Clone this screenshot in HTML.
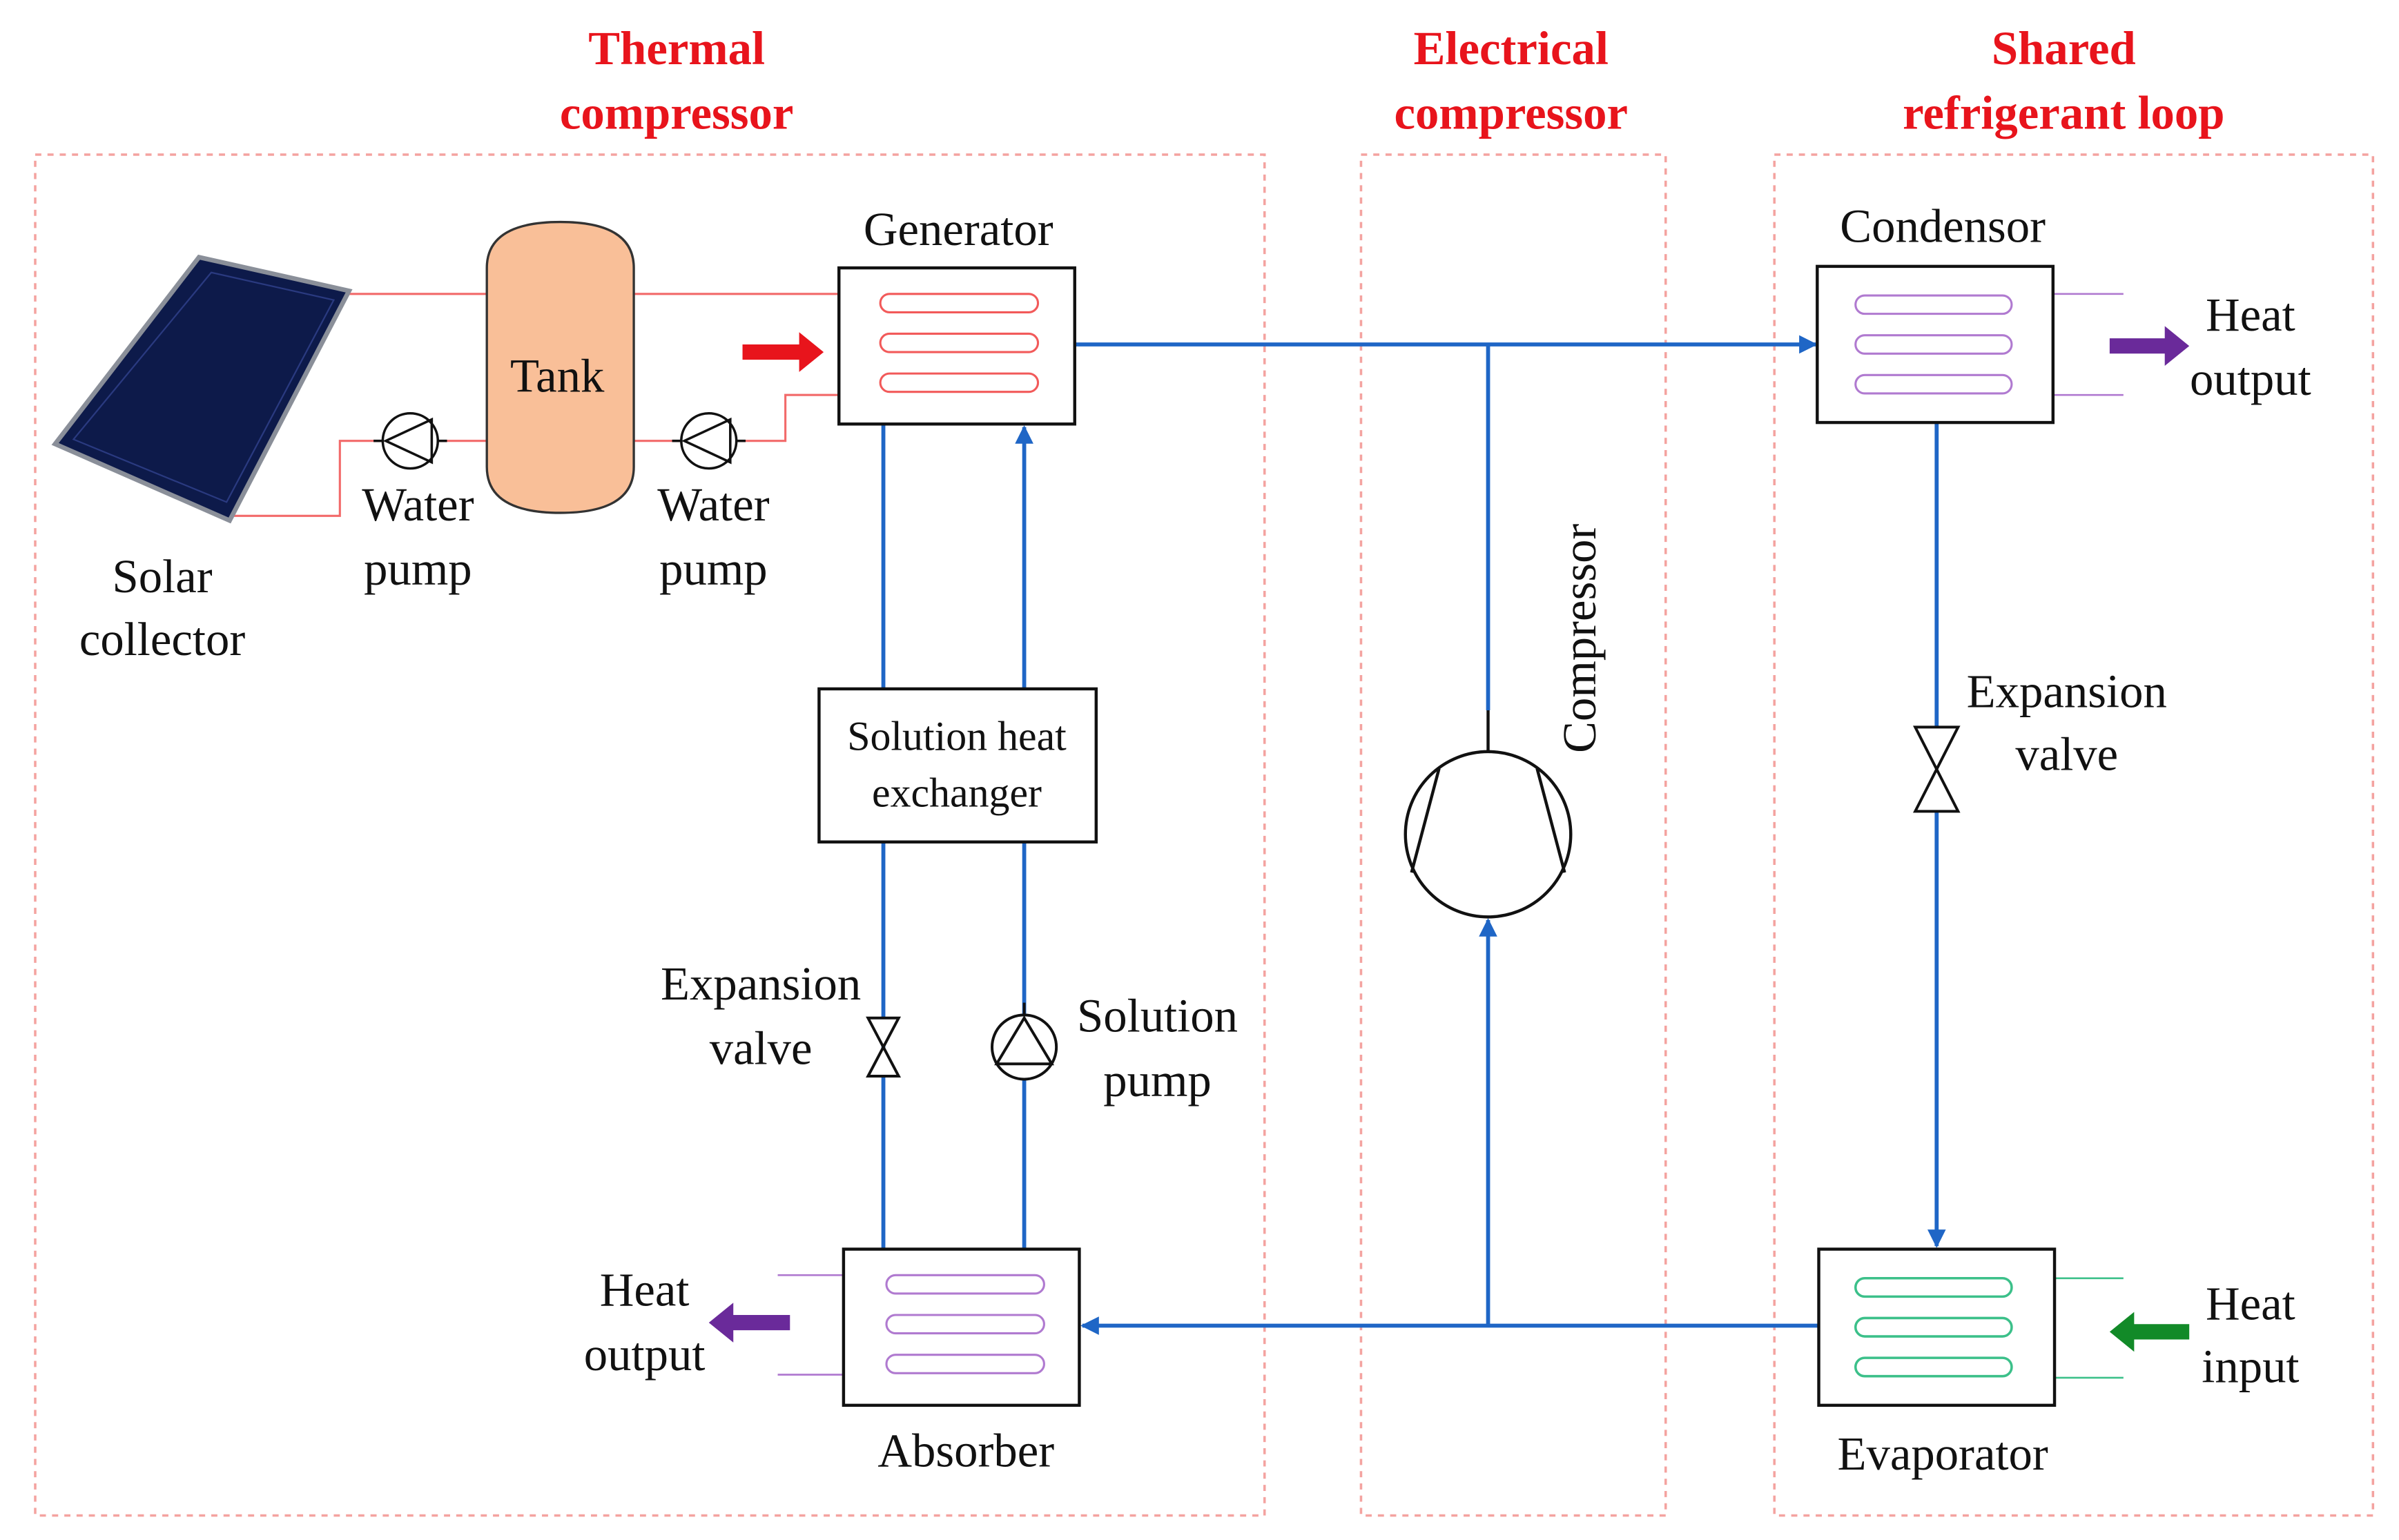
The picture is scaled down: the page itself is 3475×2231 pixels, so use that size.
<!DOCTYPE html>
<html><head><meta charset="utf-8"><style>
html,body{margin:0;padding:0;background:#fff;}
svg{display:block;}
text{font-family:"Liberation Serif",serif;fill:#111;}
.t{font-size:31px;text-anchor:middle;}
.h{font-size:31px;font-weight:bold;fill:#e8141c;text-anchor:middle;}
.b{stroke:#1f66c6;stroke-width:2.6;fill:none;}
.r{stroke:#f26a6a;stroke-width:1.4;fill:none;}
.box{fill:#fff;stroke:#111;stroke-width:2;}
.dash{fill:none;stroke:#f4a3a0;stroke-width:1.6;stroke-dasharray:4,4;}
</style></head><body>
<svg width="3475" height="2231" viewBox="0 0 1567 1006" preserveAspectRatio="none" xmlns="http://www.w3.org/2000/svg">
<defs>
<marker id="ab" viewBox="0 0 10 10" refX="9" refY="5" markerWidth="14" markerHeight="12" orient="auto" markerUnits="userSpaceOnUse"><path d="M0,0 L10,5 L0,10 z" fill="#1f66c6"/></marker>
</defs>
<rect width="1567" height="1006" fill="#fff"/>
<rect class="dash" x="23" y="101" width="803" height="889"/>
<rect class="dash" x="889" y="101" width="199" height="889"/>
<rect class="dash" x="1159" y="101" width="391" height="889"/>
<text class="h" x="442" y="42">Thermal</text>
<text class="h" x="442" y="84">compressor</text>
<text class="h" x="987" y="42">Electrical</text>
<text class="h" x="987" y="84">compressor</text>
<text class="h" x="1348" y="42">Shared</text>
<text class="h" x="1348" y="84">refrigerant loop</text>

<path class="r" d="M225,192 H318 M414,192 H548 M150,337 H222 V288 H250 M286,288 H318 M414,288 H445 M481,288 H513 V258 H548"/>
<polygon points="130,168 228,190 150,340 36,290" fill="#0d1a4a" stroke="#8a8f99" stroke-width="3"/>
<polygon points="138,178 218,196 148,328 48,287" fill="none" stroke="#2a3a80" stroke-width="1"/>
<path d="M318,175 Q318,145 366,145 Q414,145 414,175 V305 Q414,335 366,335 Q318,335 318,305 Z" fill="#f9bf98" stroke="#333" stroke-width="1.5"/>
<text class="t" x="364" y="256">Tank</text>
<g stroke="#111" stroke-width="1.6" fill="#fff">
<circle cx="268" cy="288" r="18"/><path d="M252,288 L282,274 L282,302 Z" fill="none"/>
<line x1="244" y1="288" x2="250" y2="288"/><line x1="286" y1="288" x2="292" y2="288"/>
<circle cx="463" cy="288" r="18"/><path d="M447,288 L477,274 L477,302 Z" fill="none"/>
<line x1="439" y1="288" x2="445" y2="288"/><line x1="481" y1="288" x2="487" y2="288"/>
</g>
<text class="t" x="273" y="340">Water</text><text class="t" x="273" y="382">pump</text>
<text class="t" x="466" y="340">Water</text><text class="t" x="466" y="382">pump</text>
<text class="t" x="106" y="387">Solar</text><text class="t" x="106" y="428">collector</text>

<line class="b" x1="702" y1="225" x2="1186" y2="225" marker-end="url(#ab)"/>
<line class="b" x1="972" y1="225" x2="972" y2="464"/>
<line class="b" x1="972" y1="866" x2="972" y2="601" marker-end="url(#ab)"/>
<line class="b" x1="1188" y1="866" x2="707" y2="866" marker-end="url(#ab)"/>
<line class="b" x1="1265" y1="276" x2="1265" y2="475"/>
<line class="b" x1="1265" y1="530" x2="1265" y2="814" marker-end="url(#ab)"/>
<line class="b" x1="577" y1="277" x2="577" y2="450"/>
<line class="b" x1="669" y1="450" x2="669" y2="279" marker-end="url(#ab)"/>
<line class="b" x1="577" y1="550" x2="577" y2="816"/>
<line class="b" x1="669" y1="550" x2="669" y2="816"/>

<circle cx="972" cy="545" r="54" fill="#fff" stroke="#111" stroke-width="2"/>
<path d="M940,502 L922,570 M1004,502 L1022,570" stroke="#111" stroke-width="2"/>
<line x1="972" y1="464" x2="972" y2="491" stroke="#111" stroke-width="2"/>
<text class="t" transform="translate(1042,417) rotate(-90)">Compressor</text>

<g stroke="#111" stroke-width="1.8" fill="#fff">
<path d="M1251,475 L1279,475 L1251,530 L1279,530 Z"/>
<path d="M567,665 L587,665 L567,703 L587,703 Z"/>
<circle cx="669" cy="684" r="21"/><path d="M669,665 L651,695 L687,695 Z" fill="none"/>
<line x1="669" y1="655" x2="669" y2="663"/>
</g>
<text class="t" x="1350" y="462">Expansion</text><text class="t" x="1350" y="503">valve</text>
<text class="t" x="497" y="653">Expansion</text><text class="t" x="497" y="695">valve</text>
<text class="t" x="756" y="674">Solution</text><text class="t" x="756" y="716">pump</text>

<rect class="box" x="535" y="450" width="181" height="100"/>
<text class="t" x="625" y="490" style="font-size:27px">Solution heat</text>
<text class="t" x="625" y="527" style="font-size:27px">exchanger</text>

<path d="M1341,192 H1387 M1341,258 H1387" stroke="#b07ad0" stroke-width="1.2"/>
<path d="M508,833 H551 M508,898 H551" stroke="#b07ad0" stroke-width="1.2"/>
<path d="M1342,835 H1387 M1342,900 H1387" stroke="#3cc08a" stroke-width="1.2"/>

<rect class="box" x="548" y="175" width="154" height="102"/>
<g fill="none" stroke="#f25a5a" stroke-width="1.4">
<rect x="575" y="192" width="103" height="12" rx="6"/><rect x="575" y="218" width="103" height="12" rx="6"/><rect x="575" y="244" width="103" height="12" rx="6"/>
</g>
<text class="t" x="626" y="160">Generator</text>
<rect class="box" x="1187" y="174" width="154" height="102"/>
<g fill="none" stroke="#b07ad0" stroke-width="1.4">
<rect x="1212" y="193" width="102" height="12" rx="6"/><rect x="1212" y="219" width="102" height="12" rx="6"/><rect x="1212" y="245" width="102" height="12" rx="6"/>
</g>
<text class="t" x="1269" y="158">Condensor</text>
<rect class="box" x="551" y="816" width="154" height="102"/>
<g fill="none" stroke="#b07ad0" stroke-width="1.4">
<rect x="579" y="833" width="103" height="12" rx="6"/><rect x="579" y="859" width="103" height="12" rx="6"/><rect x="579" y="885" width="103" height="12" rx="6"/>
</g>
<text class="t" x="631" y="958">Absorber</text>
<rect class="box" x="1188" y="816" width="154" height="102"/>
<g fill="none" stroke="#3cc08a" stroke-width="1.6">
<rect x="1212" y="835" width="102" height="12" rx="6"/><rect x="1212" y="861" width="102" height="12" rx="6"/><rect x="1212" y="887" width="102" height="12" rx="6"/>
</g>
<text class="t" x="1269" y="960">Evaporator</text>

<path d="M485,225 H522 V217 L538,230 L522,243 V235 H485 Z" fill="#e8141c"/>
<path d="M1378,221 H1414 V213 L1430,226 L1414,239 V231 H1378 Z" fill="#6a2a9a"/>
<path d="M516,859 H479 V851 L463,864 L479,877 V869 H516 Z" fill="#6a2a9a"/>
<path d="M1430,865 H1394 V857 L1378,870 L1394,883 V875 H1430 Z" fill="#128a28"/>

<text class="t" x="1470" y="216">Heat</text><text class="t" x="1470" y="258">output</text>
<text class="t" x="421" y="853">Heat</text><text class="t" x="421" y="895">output</text>
<text class="t" x="1470" y="862">Heat</text><text class="t" x="1470" y="903">input</text>
</svg>
</body></html>
